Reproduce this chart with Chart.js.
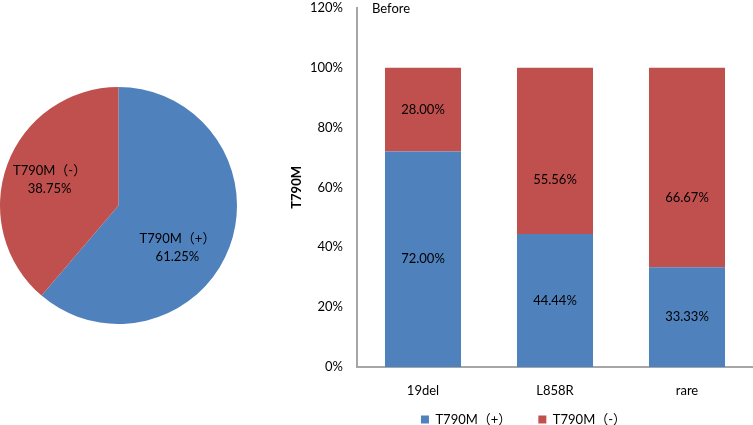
<!DOCTYPE html>
<html>
<head>
<meta charset="utf-8">
<script src="https://cdn.jsdelivr.net/npm/chart.js@4.4.1/dist/chart.umd.min.js"></script>
<style>
  html, body { margin: 0; padding: 0; background: #fff; }
  body { width: 753px; height: 425px; position: relative; overflow: hidden; }
  #pie { position: absolute; left: 0; top: 87px; }
  #bars { position: absolute; left: 240px; top: 0; }
</style>
</head>
<body>
<canvas id="pie" width="237" height="237"></canvas>
<canvas id="bars" width="513" height="425"></canvas>
<script>
  "use strict";

  var pieLabels = ["T790M（+）", "T790M（-）"];
  var pieValues = [61.25, 38.75];

  var categories = ["19del", "L858R", "rare"];
  var seriesNames = ["T790M（+）", "T790M（-）"];
  var positiveValues = [72.00, 44.44, 33.33];
  var negativeValues = [28.00, 55.56, 66.67];
  var yTicks = [0, 20, 40, 60, 80, 100, 120];

  var BLUE = "#4F81BD";
  var RED = "#C0504D";
  var FONT = "Lato, 'Noto Sans CJK SC', sans-serif";

  Chart.defaults.font.family = FONT;
  Chart.defaults.font.size = 13;
  Chart.defaults.color = "#000";

  // labels drawn inside the pie slices
  var pieLabelPlugin = {
    id: "pieLabels",
    afterDatasetsDraw: function (chart, args, opts) {
      var ctx = chart.ctx;
      var meta = chart.getDatasetMeta(0);
      ctx.save();
      ctx.font = "13px " + FONT;
      ctx.fillStyle = "#000";
      ctx.textAlign = "center";
      ctx.textBaseline = "middle";
      meta.data.forEach(function (arc, i) {
        var mid = (arc.startAngle + arc.endAngle) / 2;
        var r = arc.outerRadius * 0.62;
        var nudge = (opts.nudge && opts.nudge[i]) || [0, 0];
        var x = arc.x + Math.cos(mid) * r + nudge[0];
        var y = arc.y + Math.sin(mid) * r + nudge[1];
        ctx.fillText(pieLabels[i], x, y - 9);
        ctx.fillText(pieValues[i].toFixed(2) + "%", x, y + 9);
      });
      ctx.restore();
    }
  };

  new Chart(document.getElementById("pie"), {
    type: "pie",
    data: {
      labels: pieLabels,
      datasets: [{
        data: pieValues,
        backgroundColor: [BLUE, RED],
        borderWidth: 0
      }]
    },
    options: {
      responsive: false,
      animation: false,
      plugins: {
        legend: { display: false },
        tooltip: { enabled: false },
        pieLabels: { nudge: [[-10, 17], [0, 0]] }
      }
    },
    plugins: [pieLabelPlugin]
  });

  // value labels in each stacked segment, plus the "Before" note
  var barLabelPlugin = {
    id: "barLabels",
    afterDatasetsDraw: function (chart, args, opts) {
      var ctx = chart.ctx;
      ctx.save();
      ctx.font = "13px " + FONT;
      ctx.fillStyle = "#000";
      ctx.textAlign = "center";
      ctx.textBaseline = "middle";
      chart.data.datasets.forEach(function (ds, di) {
        var shifts = (opts.shiftY && opts.shiftY[di]) || [];
        chart.getDatasetMeta(di).data.forEach(function (bar, i) {
          var y = (bar.y + bar.base) / 2 + (shifts[i] || 0);
          ctx.fillText(ds.data[i].toFixed(2) + "%", bar.x, y);
        });
      });
      ctx.textAlign = "left";
      ctx.fillText("Before", chart.chartArea.left + 15, chart.chartArea.top + 1);
      ctx.restore();
    }
  };

  new Chart(document.getElementById("bars"), {
    type: "bar",
    data: {
      labels: categories,
      datasets: [
        { label: seriesNames[0], data: positiveValues, backgroundColor: BLUE },
        { label: seriesNames[1], data: negativeValues, backgroundColor: RED }
      ]
    },
    options: {
      responsive: false,
      animation: false,
      layout: { padding: { left: 54, right: 0, top: 0, bottom: -11 } },
      datasets: { bar: { barPercentage: 0.576, categoryPercentage: 1 } },
      scales: {
        x: {
          stacked: true,
          grid: { display: false, drawTicks: false },
          border: { color: "#a6a6a6", width: 2 },
          afterFit: function (axis) {
            // keep the axis short so the legend sits close, and let labels spill out
            axis.height = 19;
            axis._computeLabelArea = function () { return null; };
          },
          ticks: { padding: 16 }
        },
        y: {
          stacked: true,
          min: 0,
          max: yTicks[yTicks.length - 1],
          grid: { display: false, drawTicks: true, tickLength: 14 },
          border: { color: "#a6a6a6", width: 2 },
          afterBuildTicks: function (axis) {
            axis.ticks = yTicks.map(function (v) { return { value: v }; });
          },
          afterFit: function (axis) { axis.width = 63; },
          ticks: {
            padding: 0,
            callback: function (v) { return v + "%"; }
          },
          title: {
            display: true,
            text: "T790M",
            font: { weight: "bold", size: 13 },
            padding: { top: -5, bottom: 0 }
          }
        }
      },
      plugins: {
        tooltip: { enabled: false },
        legend: {
          position: "bottom",
          labels: { boxWidth: 8, boxHeight: 8, padding: 27 }
        },
        // the original's red labels for L858R and rare sit lower than centre
        barLabels: { shiftY: [[0, 0, 0], [0, 29, 30]] }
      }
    },
    plugins: [barLabelPlugin]
  });
</script>
</body>
</html>
